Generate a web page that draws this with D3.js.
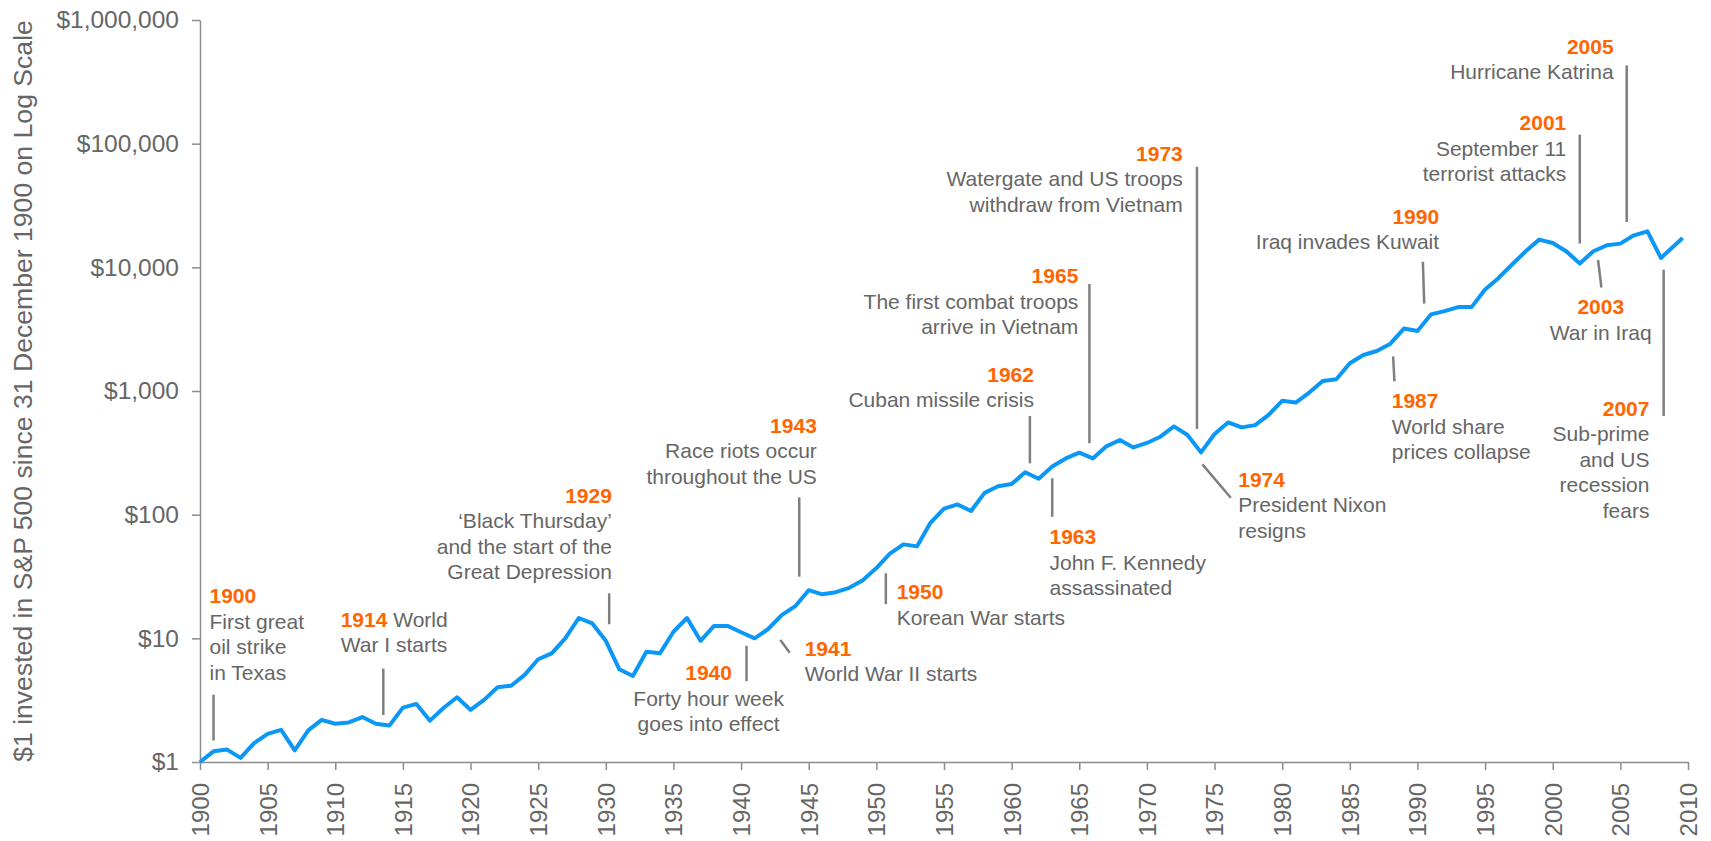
<!DOCTYPE html>
<html>
<head>
<meta charset="utf-8">
<script src="https://cdn.jsdelivr.net/npm/d3@7"></script>
<style>
  body { margin: 0; background: #fff; }
  svg text { font-family: "Liberation Sans", Arial, Helvetica, sans-serif; }
</style>
</head>
<body>
<svg id="graph" width="1711" height="841"></svg>
<script>
//============================== DATA ===========================================
// year-end value of $1 put into the S&P 500 at the end of 1900 (last point = 2009 to date)
let years = [
  1900, 1901, 1902, 1903, 1904, 1905, 1906, 1907, 1908, 1909,
  1910, 1911, 1912, 1913, 1914, 1915, 1916, 1917, 1918, 1919,
  1920, 1921, 1922, 1923, 1924, 1925, 1926, 1927, 1928, 1929,
  1930, 1931, 1932, 1933, 1934, 1935, 1936, 1937, 1938, 1939,
  1940, 1941, 1942, 1943, 1944, 1945, 1946, 1947, 1948, 1949,
  1950, 1951, 1952, 1953, 1954, 1955, 1956, 1957, 1958, 1959,
  1960, 1961, 1962, 1963, 1964, 1965, 1966, 1967, 1968, 1969,
  1970, 1971, 1972, 1973, 1974, 1975, 1976, 1977, 1978, 1979,
  1980, 1981, 1982, 1983, 1984, 1985, 1986, 1987, 1988, 1989,
  1990, 1991, 1992, 1993, 1994, 1995, 1996, 1997, 1998, 1999,
  2000, 2001, 2002, 2003, 2004, 2005, 2006, 2007, 2008, 2009.6
];

let values = [
  1.00, 1.22, 1.26, 1.08, 1.42, 1.69, 1.82, 1.24, 1.80, 2.19,
  2.04, 2.09, 2.31, 2.04, 1.97, 2.75, 2.95, 2.16, 2.73, 3.34,
  2.64, 3.18, 4.02, 4.14, 5.06, 6.77, 7.56, 9.99, 14.6, 13.2,
  9.55, 5.62, 4.96, 7.79, 7.56, 11.3, 14.6, 9.55, 12.6, 12.6,
  11.2, 10.0, 11.9, 15.4, 18.2, 24.5, 22.7, 23.6, 25.6, 29.5,
  37.0, 48.4, 57.5, 55.4, 86.0, 112, 121, 107, 150, 170,
  177, 220, 195, 245, 285, 317, 285, 357, 402, 350,
  380, 427, 517, 441, 319, 449, 557, 508, 530, 642,
  833, 807, 972, 1207, 1246, 1677, 1956, 2107, 2413, 3199,
  3054, 4164, 4428, 4769, 4769, 6622, 8212, 10534, 13485, 16751,
  15730, 13485, 10730, 13485, 15080, 15553, 18150, 19544, 11906, 17258
];

let xTicks = [1900, 1905, 1910, 1915, 1920, 1925, 1930, 1935, 1940, 1945, 1950,
  1955, 1960, 1965, 1970, 1975, 1980, 1985, 1990, 1995, 2000, 2005, 2010];
let yTicks = [1, 10, 100, 1000, 10000, 100000, 1000000];

let eventYears = ["1900", "1914", "1929", "1940", "1941", "1943", "1950", "1962", "1963",
  "1965", "1973", "1974", "1987", "1990", "2001", "2003", "2005", "2007"];
let eventTexts = [
  ["First great", "oil strike", "in Texas"],
  ["World", "War I starts"],
  ["\u2018Black Thursday\u2019", "and the start of the", "Great Depression"],
  ["Forty hour week", "goes into effect"],
  ["World War II starts"],
  ["Race riots occur", "throughout the US"],
  ["Korean War starts"],
  ["Cuban missile crisis"],
  ["John F. Kennedy", "assassinated"],
  ["The first combat troops", "arrive in Vietnam"],
  ["Watergate and US troops", "withdraw from Vietnam"],
  ["President Nixon", "resigns"],
  ["World share", "prices collapse"],
  ["Iraq invades Kuwait"],
  ["September 11", "terrorist attacks"],
  ["War in Iraq"],
  ["Hurricane Katrina"],
  ["Sub-prime", "and US", "recession", "fears"]
];

//===================== ANNOTATION PLACEMENT (data units) =======================
// t = text anchor (year, $), l1/l2 = ends of the leader line (year, $)
let placement = [
  {t: [1900.7, 19.2], a: "start", l1: [1901.0, 3.5], l2: [1901.0, 1.49]},
  {t: [1910.4, 12.4], a: "start", inline: true, l1: [1913.55, 5.7], l2: [1913.55, 2.4]},
  {t: [1930.45, 125], a: "end", l1: [1930.25, 23.1], l2: [1930.25, 13.0]},
  {t: [1937.6, 4.6], a: "middle", l1: [1940.4, 8.7], l2: [1940.4, 4.5]},
  {t: [1944.7, 7.2], a: "start", l1: [1942.9, 9.7], l2: [1943.6, 7.65]},
  {t: [1945.6, 460], a: "end", l1: [1944.3, 138], l2: [1944.3, 31.5]},
  {t: [1951.5, 20.7], a: "start", l1: [1950.7, 33.6], l2: [1950.7, 18.9]},
  {t: [1961.65, 1190], a: "end", l1: [1961.35, 628], l2: [1961.35, 260]},
  {t: [1962.8, 57.9], a: "start", l1: [1963.0, 197], l2: [1963.0, 96]},
  {t: [1964.93, 7430], a: "end", l1: [1965.75, 7330], l2: [1965.75, 378]},
  {t: [1972.65, 72800], a: "end", l1: [1973.7, 65100], l2: [1973.7, 493]},
  {t: [1976.75, 168], a: "start", l1: [1974.1, 255], l2: [1976.2, 137]},
  {t: [1988.1, 726], a: "start", l1: [1988.2, 1904], l2: [1988.3, 1195]},
  {t: [1991.6, 22450], a: "end", l1: [1990.4, 11080], l2: [1990.5, 5090]},
  {t: [2001.0, 127950], a: "end", l1: [2002.0, 118340], l2: [2002.0, 15550]},
  {t: [2003.55, 4170], a: "middle", l1: [2003.35, 11460], l2: [2003.6, 6870]},
  {t: [2004.5, 534600], a: "end", l1: [2005.47, 429300], l2: [2005.47, 23220]},
  {t: [2007.15, 628], a: "end", l1: [2008.2, 9585], l2: [2008.2, 628]}
];

//========================= GRAB & SET UP SVG ELEMENT ============================
let svg = d3.select("#graph"),
  margin = {top: 20, right: 23, bottom: 79, left: 200},
  width = svg.attr("width") - margin.left - margin.right,
  height = svg.attr("height") - margin.top - margin.bottom,
  g = svg.append("g").attr("transform", "translate(" + margin.left + "," + margin.top + ")"),
  axisColor = "#8c8c8c",
  textColor = "#666666",
  lineHeight = 25.5;

let series = years.map(function(yr, i) { return {year: yr, value: values[i]}; });

//========================== SET UP AXIS =======================================
let x = d3.scaleLinear().domain([1900, 2010]).range([0, width]),
    y = d3.scaleLog().domain([1, 1000000]).range([height, 0]);

let yAxis = g.append("g")
  .attr("class", "axis axis--y")
  .call(d3.axisLeft(y).tickValues(yTicks).tickFormat(d3.format("$,"))
    .tickSize(8).tickSizeOuter(0).tickPadding(13));

let xAxis = g.append("g")
  .attr("class", "axis axis--x")
  .attr("transform", "translate(0," + height + ")")
  .call(d3.axisBottom(x).tickValues(xTicks).tickFormat(d3.format("d"))
    .tickSize(8).tickSizeOuter(0));

xAxis.selectAll("text")
  .attr("transform", "rotate(-90)")
  .attr("text-anchor", "end")
  .attr("x", -21)
  .attr("y", 0)
  .attr("dy", "0.35em");

g.selectAll(".axis path, .axis line")
  .attr("stroke", axisColor)
  .attr("stroke-width", 1.5);

g.selectAll(".axis text")
  .attr("fill", textColor)
  .style("font-size", "24px");

yAxis.selectAll("text").style("font-size", "24.5px");

svg.append("text")
  .attr("transform", "translate(32," + (margin.top + height / 2) + ") rotate(-90)")
  .attr("text-anchor", "middle")
  .attr("fill", textColor)
  .style("font-size", "26.6px")
  .text("$1 invested in S&P 500 since 31 December 1900 on Log Scale");

//============================= SET UP LINE =====================================
let line = d3.line()
  .x(function(d) { return x(d.year); })
  .y(function(d) { return y(d.value); });

g.append("path")
  .datum(series)
  .attr("class", "line")
  .attr("d", line)
  .style("stroke", "#0a97f5")
  .style("stroke-width", 4)
  .style("stroke-linejoin", "round")
  .style("fill", "none");

//============================= ANNOTATIONS =====================================
let notes = eventYears.map(function(yr, i) {
  return {year: yr, lines: eventTexts[i], p: placement[i]};
});

let note = g.selectAll(".note")
  .data(notes)
  .enter().append("g")
    .attr("class", "note");

note.append("line")
  .attr("x1", function(d) { return x(d.p.l1[0]); })
  .attr("y1", function(d) { return y(d.p.l1[1]); })
  .attr("x2", function(d) { return x(d.p.l2[0]); })
  .attr("y2", function(d) { return y(d.p.l2[1]); })
  .attr("stroke", "#7f7f7f")
  .attr("stroke-width", 2.5);

let label = note.append("text")
  .attr("x", function(d) { return x(d.p.t[0]); })
  .attr("y", function(d) { return y(d.p.t[1]); })
  .attr("text-anchor", function(d) { return d.p.a; })
  .style("font-size", "21px");

label.each(function(d) {
  let t = d3.select(this),
    tx = x(d.p.t[0]),
    rest = d.p.inline ? d.lines.slice(1) : d.lines;

  t.append("tspan")
    .attr("x", tx)
    .attr("fill", "#ff6600")
    .style("font-weight", "bold")
    .text(d.year);

  if (d.p.inline) {
    t.append("tspan")
      .attr("fill", textColor)
      .text(" " + d.lines[0]);
  }

  rest.forEach(function(s) {
    t.append("tspan")
      .attr("x", tx)
      .attr("dy", lineHeight)
      .attr("fill", textColor)
      .text(s);
  });
});
</script>
</body>
</html>
